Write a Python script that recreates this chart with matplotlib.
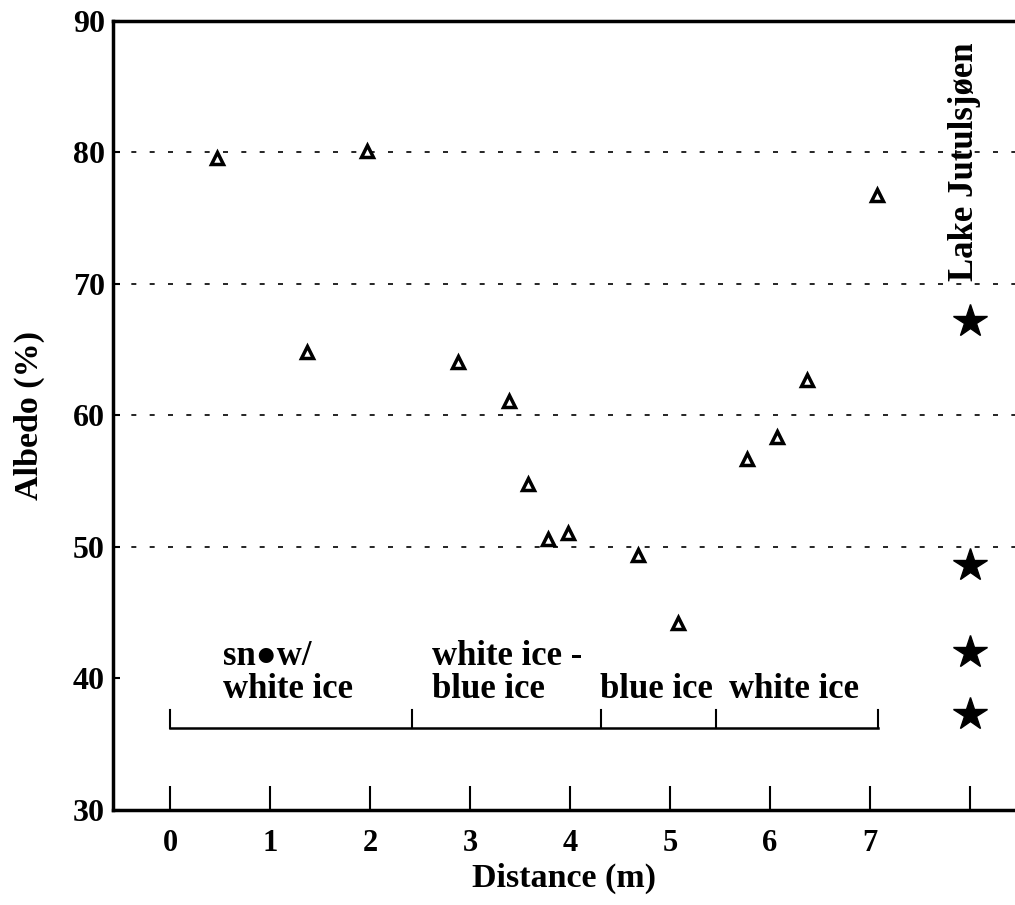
import matplotlib
matplotlib.use("Agg")
import matplotlib.pyplot as plt

plt.rcParams['font.family'] = ['Liberation Serif', 'DejaVu Serif']
plt.rcParams['font.weight'] = 'bold'

# Data
distance = [0.47, 1.37, 1.97, 2.88, 3.39, 3.58, 3.78, 3.98, 4.68, 5.08, 5.77, 6.07, 6.37, 7.07]
albedo = [79.6, 64.8, 80.1, 64.1, 61.1, 54.8, 50.6, 51.1, 49.4, 44.2, 56.7, 58.4, 62.7, 76.8]
lake_x = [8, 8, 8, 8]
lake_albedo = [67.2, 48.6, 42.0, 37.3]
zone_bounds = [0.0, 2.42, 4.31, 5.46, 7.08]
zone_labels = ["sn\u25cfw/\nwhite ice", "white ice -\nblue ice", "blue ice", "white ice"]
zone_label_x = [0.53, 2.62, 4.30, 5.59]
xticks = [0, 1, 2, 3, 4, 5, 6, 7, 8]
xticklabels = ["0", "1", "2", "3", "4", "5", "6", "7", ""]
yticks = [30, 40, 50, 60, 70, 80, 90]
grid_y = [50, 60, 70, 80]

fig = plt.figure(figsize=(10.15, 9.05), dpi=100)
ax = fig.add_axes([0.1113, 0.105, 0.8887, 0.8718])
ax.set_xlim(-0.57, 8.45)
ax.set_ylim(30, 90)

for gy in grid_y:
    ax.axhline(gy, color='black', lw=1.2, linestyle=(0, (3, 8)), zorder=1)

ax.plot(distance, albedo, linestyle='none', marker='^', ms=9, mfc='white',
        mec='black', mew=2.5, zorder=3)
ax.plot(lake_x, lake_albedo, linestyle='none', marker='*', ms=25, color='black', zorder=3)

# bracket
bracket_y = 36.2
tick_top = 37.6
ax.plot([zone_bounds[0], zone_bounds[-1]], [bracket_y, bracket_y], color='black', lw=1.8)
for b in zone_bounds:
    ax.plot([b, b], [bracket_y, tick_top], color='black', lw=1.5)
for lx, lab in zip(zone_label_x, zone_labels):
    ax.text(lx, 37.9, lab, ha='left', va='bottom', fontsize=25, fontweight='bold',
            linespacing=1.0)

ax.text(7.95, 79.3, "Lake Jutulsjøen", rotation=90, ha='center', va='center',
        fontsize=25, fontweight='bold')

ax.set_xticks(xticks)
ax.set_xticklabels(xticklabels)
ax.set_yticks(yticks)
ax.tick_params(axis='x', direction='in', length=17, width=1.5, labelsize=22, pad=14)
ax.tick_params(axis='y', direction='in', length=5, width=1.5, labelsize=23, pad=6)
for lab in ax.get_xticklabels() + ax.get_yticklabels():
    lab.set_fontweight('bold')

ax.spines['right'].set_visible(False)
for s in ['left', 'top', 'bottom']:
    ax.spines[s].set_linewidth(2.5)

ax.set_xlabel("Distance (m)", fontsize=24.5, fontweight='bold', labelpad=3)
ax.set_ylabel("Albedo (%)", fontsize=24.5, fontweight='bold', labelpad=20)

fig.savefig("out.png", dpi=100)
